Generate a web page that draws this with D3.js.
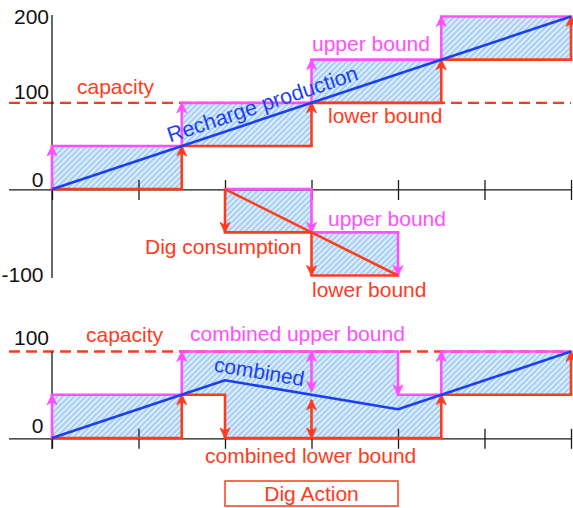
<!DOCTYPE html>
<meta charset="utf-8">
<style>
body { margin: 0; background: #fff; }
svg { font-family: "Liberation Sans", Arial, Helvetica, sans-serif; }
.lbl { font-size: 21px; }
.axis line { stroke: #1a1a1a; stroke-width: 1.3px; }
.base { stroke: #1a1a1a; stroke-width: 1.3px; }
</style>
<body>
<div id="container"></div>
<script src="https://cdn.jsdelivr.net/npm/d3@7"></script>
<script>

// ---- data ----
var xTicks = [0, 1, 2, 3, 4, 5, 6];
var topYTicks = [200, 100, 0, -100];
var bottomYTicks = [100, 0];
var capacity = 100;

var rechargeSteps = [0, 1.5, 3, 4.5, 6];
var rechargeLower = [0, 50, 100, 150];
var rechargeUpper = [50, 100, 150, 200];
var rechargeLine = [[0, 0], [6, 200]];
var rechargeUpperArrows = [[0, 0, 50], [1.5, 50, 100], [3, 100, 150], [4.5, 150, 200]];
var rechargeLowerArrows = [[1.5, 0, 50], [3, 50, 100], [4.5, 100, 150], [6, 150, 200]];

var digSteps = [2, 3, 4];
var digLower = [-50, -100];
var digUpper = [0, -50];
var digLine = [[2, 0], [4, -100]];
var digUpperArrows = [[3, 0, -50], [4, -50, -100]];
var digLowerArrows = [[2, 0, -50], [3, -50, -100]];

var combinedSteps = [0, 1.5, 2, 4, 4.5, 6];
var combinedLower = [0, 50, 0, 0, 50];
var combinedUpper = [50, 100, 100, 50, 100];
var combinedLine = [[0, 0], [2, 66.7], [4, 33.3], [6, 100]];
var combinedUpperArrows = [[0, 0, 50], [1.5, 50, 100], [4, 100, 50], [4.5, 50, 100]];
var combinedLowerArrows = [[1.5, 0, 50], [2, 50, 0], [4.5, 0, 50], [6, 50, 100]];
var combinedUpperMargin = [[3, 100, 54]];
var combinedLowerMargin = [[3, 44, 0]];
var digActionRange = [2, 4];

// ---- colours ----
var RED = "#ff3b1d", MAGENTA = "#ff4fff", BLUE = "#1b3ff2";

var svg = d3.select("#container").append("svg")
    .attr("width", 573)
    .attr("height", 508);

// scales
var x = d3.scaleLinear().domain([0, 6]).range([52, 571]);
var yTop = d3.scaleLinear().domain([-100, 200]).range([275.5, 16.5]);
var yBot = d3.scaleLinear().domain([0, 100]).range([438, 351.5]);

// hatch pattern + arrow markers
var defs = svg.append("defs");
var pat = defs.append("pattern")
    .attr("id", "hatch")
    .attr("patternUnits", "userSpaceOnUse")
    .attr("width", 4).attr("height", 4)
    .attr("patternTransform", "rotate(45)");
pat.append("rect").attr("width", 4).attr("height", 4).attr("fill", "#deedfb");
pat.append("line").attr("x1", 1).attr("y1", 0).attr("x2", 1).attr("y2", 4)
    .attr("stroke", "#a6cff4").attr("stroke-width", 2);

function marker(id, color) {
  defs.append("marker")
      .attr("id", id)
      .attr("markerUnits", "userSpaceOnUse")
      .attr("viewBox", "-12 -7 14 14")
      .attr("refX", 0).attr("refY", 0)
      .attr("markerWidth", 14).attr("markerHeight", 14)
      .attr("orient", "auto-start-reverse")
    .append("path")
      .attr("d", "M0.5,0 L-10,-5 L-7,0 L-10,5 Z")
      .attr("fill", color)
      .attr("stroke", color)
      .attr("stroke-width", 0.8)
      .attr("stroke-linejoin", "round");
}
marker("arRed", RED);
marker("arMag", MAGENTA);

function drawChart(y, groups, lines, yAxisTop, yAxisBottom) {
  var g = svg.append("g");

  // hatched ranges
  var area = d3.area()
      .curve(d3.curveStepAfter)
      .x(function(d) { return x(d.x); })
      .y0(function(d) { return y(d.lo); })
      .y1(function(d) { return y(d.up); });
  groups.forEach(function(gr) {
    if (!gr.steps.length) return;
    var n = gr.lower.length;
    var pts = gr.steps.map(function(s, i) {
      var k = Math.min(i, n - 1);
      return {x: s, lo: gr.lower[k], up: gr.upper[k]};
    });
    g.append("path").attr("d", area(pts)).attr("fill", "url(#hatch)");
  });

  // capacity line
  g.append("line")
      .attr("x1", 9).attr("x2", x(6))
      .attr("y1", y(capacity)).attr("y2", y(capacity))
      .attr("stroke", RED).attr("stroke-width", 2.3)
      .attr("stroke-dasharray", "11,6");

  // axes
  g.append("line").attr("class", "base")
      .attr("x1", 9).attr("x2", x(6))
      .attr("y1", y(0) + 0.8).attr("y2", y(0) + 0.8);
  g.append("line").attr("class", "base")
      .attr("x1", x(0)).attr("x2", x(0))
      .attr("y1", yAxisTop).attr("y2", yAxisBottom);
  var ax = g.append("g")
      .attr("class", "axis")
      .attr("transform", "translate(0," + (y(0) + 0.8) + ")")
      .call(d3.axisBottom(x).tickValues(xTicks).tickSize(10).tickSizeOuter(0).tickFormat(""));
  ax.select(".domain").remove();
  ax.selectAll(".tick line").attr("y1", -10);

  // bound segments
  groups.forEach(function(gr) {
    [[gr.lower, RED], [gr.upper, MAGENTA]].forEach(function(b) {
      b[0].forEach(function(v, i) {
        g.append("line")
            .attr("x1", x(gr.steps[i])).attr("x2", x(gr.steps[i + 1]))
            .attr("y1", y(v)).attr("y2", y(v))
            .attr("stroke", b[1]).attr("stroke-width", 2.6)
            .attr("stroke-linecap", "square");
      });
    });
  });

  // arrows
  groups.forEach(function(gr) {
    [[gr.lowerArrows, "arRed", RED], [gr.upperArrows, "arMag", MAGENTA]].forEach(function(a) {
      (a[0] || []).forEach(function(d) {
        g.append("line")
            .attr("x1", x(d[0])).attr("x2", x(d[0]))
            .attr("y1", y(d[1])).attr("y2", y(d[2]))
            .attr("stroke", a[2]).attr("stroke-width", 2.6)
            .attr("marker-end", "url(#" + a[1] + ")")
            .attr("marker-start", gr.both ? "url(#" + a[1] + ")" : null);
      });
    });
  });

  // production / consumption lines
  var ln = d3.line().x(function(d) { return x(d[0]); }).y(function(d) { return y(d[1]); });
  lines.forEach(function(l) {
    g.append("path").attr("d", ln(l.data))
        .attr("fill", "none").attr("stroke", l.color).attr("stroke-width", 2.6)
        .attr("stroke-linejoin", "round");
  });
  return g;
}

var topG = drawChart(yTop, [
  {steps: rechargeSteps, lower: rechargeLower, upper: rechargeUpper,
   lowerArrows: rechargeLowerArrows, upperArrows: rechargeUpperArrows},
  {steps: digSteps, lower: digLower, upper: digUpper,
   lowerArrows: digLowerArrows, upperArrows: digUpperArrows}
], [
  {data: rechargeLine, color: BLUE},
  {data: digLine, color: RED}
], yTop(200) - 1.5, yTop(-100) + 2.5);

var botG = drawChart(yBot, [
  {steps: combinedSteps, lower: combinedLower, upper: combinedUpper,
   lowerArrows: combinedLowerArrows, upperArrows: combinedUpperArrows},
  {steps: [], lower: [], upper: [],
   lowerArrows: combinedLowerMargin, upperArrows: combinedUpperMargin, both: true}
], [
  {data: combinedLine, color: BLUE}
], yBot(100), yBot(0) + 10.8);

// ---- text ----
function label(g, txt, px, py, color, anchor) {
  return g.append("text").attr("class", "lbl")
      .attr("x", px).attr("y", py)
      .attr("fill", color)
      .attr("text-anchor", anchor || "start")
      .text(txt);
}

// y tick labels
var topTickPos = {"200": [49, 24], "100": [49, 99], "0": [43.5, 187], "-100": [43.5, 282]};
topYTicks.forEach(function(t) {
  label(topG, String(t), topTickPos[t][0], topTickPos[t][1], "#111", "end");
});
var botTickPos = {"100": [49, 345], "0": [43.5, 433]};
bottomYTicks.forEach(function(t) {
  label(botG, String(t), botTickPos[t][0], botTickPos[t][1], "#111", "end");
});

label(topG, "capacity", 77, 94, RED);
label(topG, "upper bound", 312, 51, MAGENTA);
label(topG, "lower bound", 328, 123, RED);
label(topG, "Dig consumption", 145, 254, RED);
label(topG, "upper bound", 328, 226, MAGENTA);
label(topG, "lower bound", 312, 297, RED);

// rotated along the recharge line
var angTop = Math.atan2(yTop(200) - yTop(0), x(6) - x(0)) * 180 / Math.PI;
topG.append("text").attr("class", "lbl")
    .attr("transform", "translate(" + x(1.39) + "," + yTop(46.3) + ") rotate(" + angTop + ")")
    .attr("x", 0).attr("y", -7)
    .attr("fill", BLUE)
    .style("font-size", "21.5px")
    .text("Recharge production");

label(botG, "capacity", 86, 342, RED);
label(botG, "combined upper bound", 190, 341, MAGENTA);
label(botG, "combined lower bound", 205, 463, RED);

var angBot = Math.atan2(yBot(33.3) - yBot(66.7), x(4) - x(2)) * 180 / Math.PI;
botG.append("text").attr("class", "lbl")
    .attr("transform", "translate(" + x(2.37) + "," + yBot(60.5) + ") rotate(" + angBot + ")")
    .attr("x", 0).attr("y", -7)
    .attr("text-anchor", "middle")
    .attr("fill", BLUE)
    .text("combined");

// Dig Action box
svg.append("rect")
    .attr("x", x(digActionRange[0])).attr("y", 481)
    .attr("width", x(digActionRange[1]) - x(digActionRange[0])).attr("height", 25)
    .attr("fill", "none").attr("stroke", RED).attr("stroke-width", 1.5);
label(svg, "Dig Action", (x(digActionRange[0]) + x(digActionRange[1])) / 2, 500.5, RED, "middle");

</script>
</body>
